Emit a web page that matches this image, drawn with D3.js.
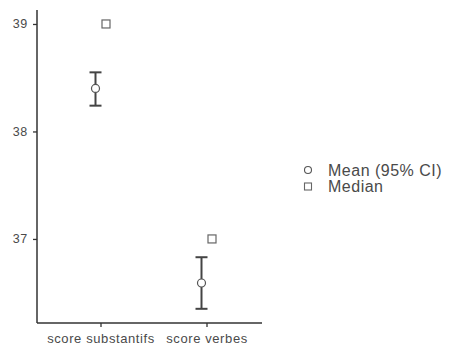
<!DOCTYPE html>
<html>
<head>
<meta charset="utf-8">
<script src="https://cdn.jsdelivr.net/npm/d3@7"></script>
<style>
  body { margin: 0; background: #fff; }
  text { font-family: "Liberation Sans", Arial, sans-serif; }
</style>
</head>
<body>
<svg id="chart" width="452" height="349"></svg>
<script>
// Descriptive plot: mean with 95% CI and median per score
const categories = ["score substantifs", "score verbes"];
const means = [38.40, 36.59];
const ciLow = [38.24, 36.35];
const ciHigh = [38.55, 36.83];
const medians = [39, 37];
const yTicks = [37, 38, 39];
const legendLabels = ["Mean (95% CI)", "Median"];

const svg = d3.select("#chart");
const plotLeft = 37, plotRight = 262, plotTop = 10, plotBottom = 323;

const x = d3.scalePoint().domain(categories).range([100.5, 206.5]);
const y = d3.scaleLinear().domain([36.218, 39.13]).range([plotBottom, plotTop]);

const axisColor = "#333";
const textColor = "#4a4a4a";
const fontFam = "'Liberation Sans', Arial, sans-serif";

// Y axis
const yAxis = svg.append("g").attr("transform", `translate(${plotLeft},0)`)
  .call(d3.axisLeft(y).tickValues(yTicks).tickSize(4).tickPadding(5).tickFormat(d3.format("d")));
yAxis.select(".domain").attr("d", `M0,${plotTop}V${plotBottom}`).attr("stroke", axisColor).attr("stroke-width", 1.5);
yAxis.selectAll(".tick line").attr("stroke", axisColor).attr("stroke-width", 1.3);
yAxis.selectAll(".tick text").attr("fill", textColor)
  .style("font-size", "12.5px").style("letter-spacing", "0.7px").style("font-family", fontFam);

// X axis
const xAxis = svg.append("g").attr("transform", `translate(0,${plotBottom})`)
  .call(d3.axisBottom(x).tickSize(4).tickPadding(7));
xAxis.select(".domain").attr("d", `M${plotLeft},0H${plotRight}`).attr("stroke", axisColor).attr("stroke-width", 1.5);
xAxis.selectAll(".tick line").attr("stroke", axisColor).attr("stroke-width", 1.3);
xAxis.selectAll(".tick text").attr("fill", textColor)
  .style("font-size", "13px").style("letter-spacing", "0.6px").style("font-family", fontFam);

const meanOff = -5, medOff = 5.5, capW = 6;
const barColor = "#444";

// Error bars, mean points and medians
const eb = svg.append("g");
categories.forEach((c, i) => {
  const cx = x(c) + meanOff;
  eb.append("line").attr("x1", cx).attr("x2", cx).attr("y1", y(ciLow[i])).attr("y2", y(ciHigh[i]))
    .attr("stroke", barColor).attr("stroke-width", 2);
  [ciLow[i], ciHigh[i]].forEach(v => {
    eb.append("line").attr("x1", cx - capW).attr("x2", cx + capW).attr("y1", y(v)).attr("y2", y(v))
      .attr("stroke", barColor).attr("stroke-width", 2);
  });
  eb.append("circle").attr("cx", cx).attr("cy", y(means[i])).attr("r", 4)
    .attr("fill", "#fff").attr("stroke", "#555").attr("stroke-width", 1.2);
  eb.append("rect").attr("x", x(c) + medOff - 4).attr("y", y(medians[i]) - 4)
    .attr("width", 8).attr("height", 8)
    .attr("fill", "#fff").attr("stroke", "#666").attr("stroke-width", 1.2);
});

// Legend
const lg = svg.append("g").attr("transform", "translate(308,170)");
lg.append("circle").attr("cx", 0).attr("cy", 0).attr("r", 3.5)
  .attr("fill", "#fff").attr("stroke", "#555").attr("stroke-width", 1.1);
lg.append("rect").attr("x", -3.5).attr("y", 16.5 - 3.5).attr("width", 7).attr("height", 7)
  .attr("fill", "#fff").attr("stroke", "#666").attr("stroke-width", 1.1);
legendLabels.forEach((t, i) => {
  lg.append("text").attr("x", 20).attr("y", i * 16.5 + 5.5)
    .style("font-size", "16px").style("letter-spacing", "0.5px")
    .attr("fill", textColor).text(t);
});
</script>
</body>
</html>
